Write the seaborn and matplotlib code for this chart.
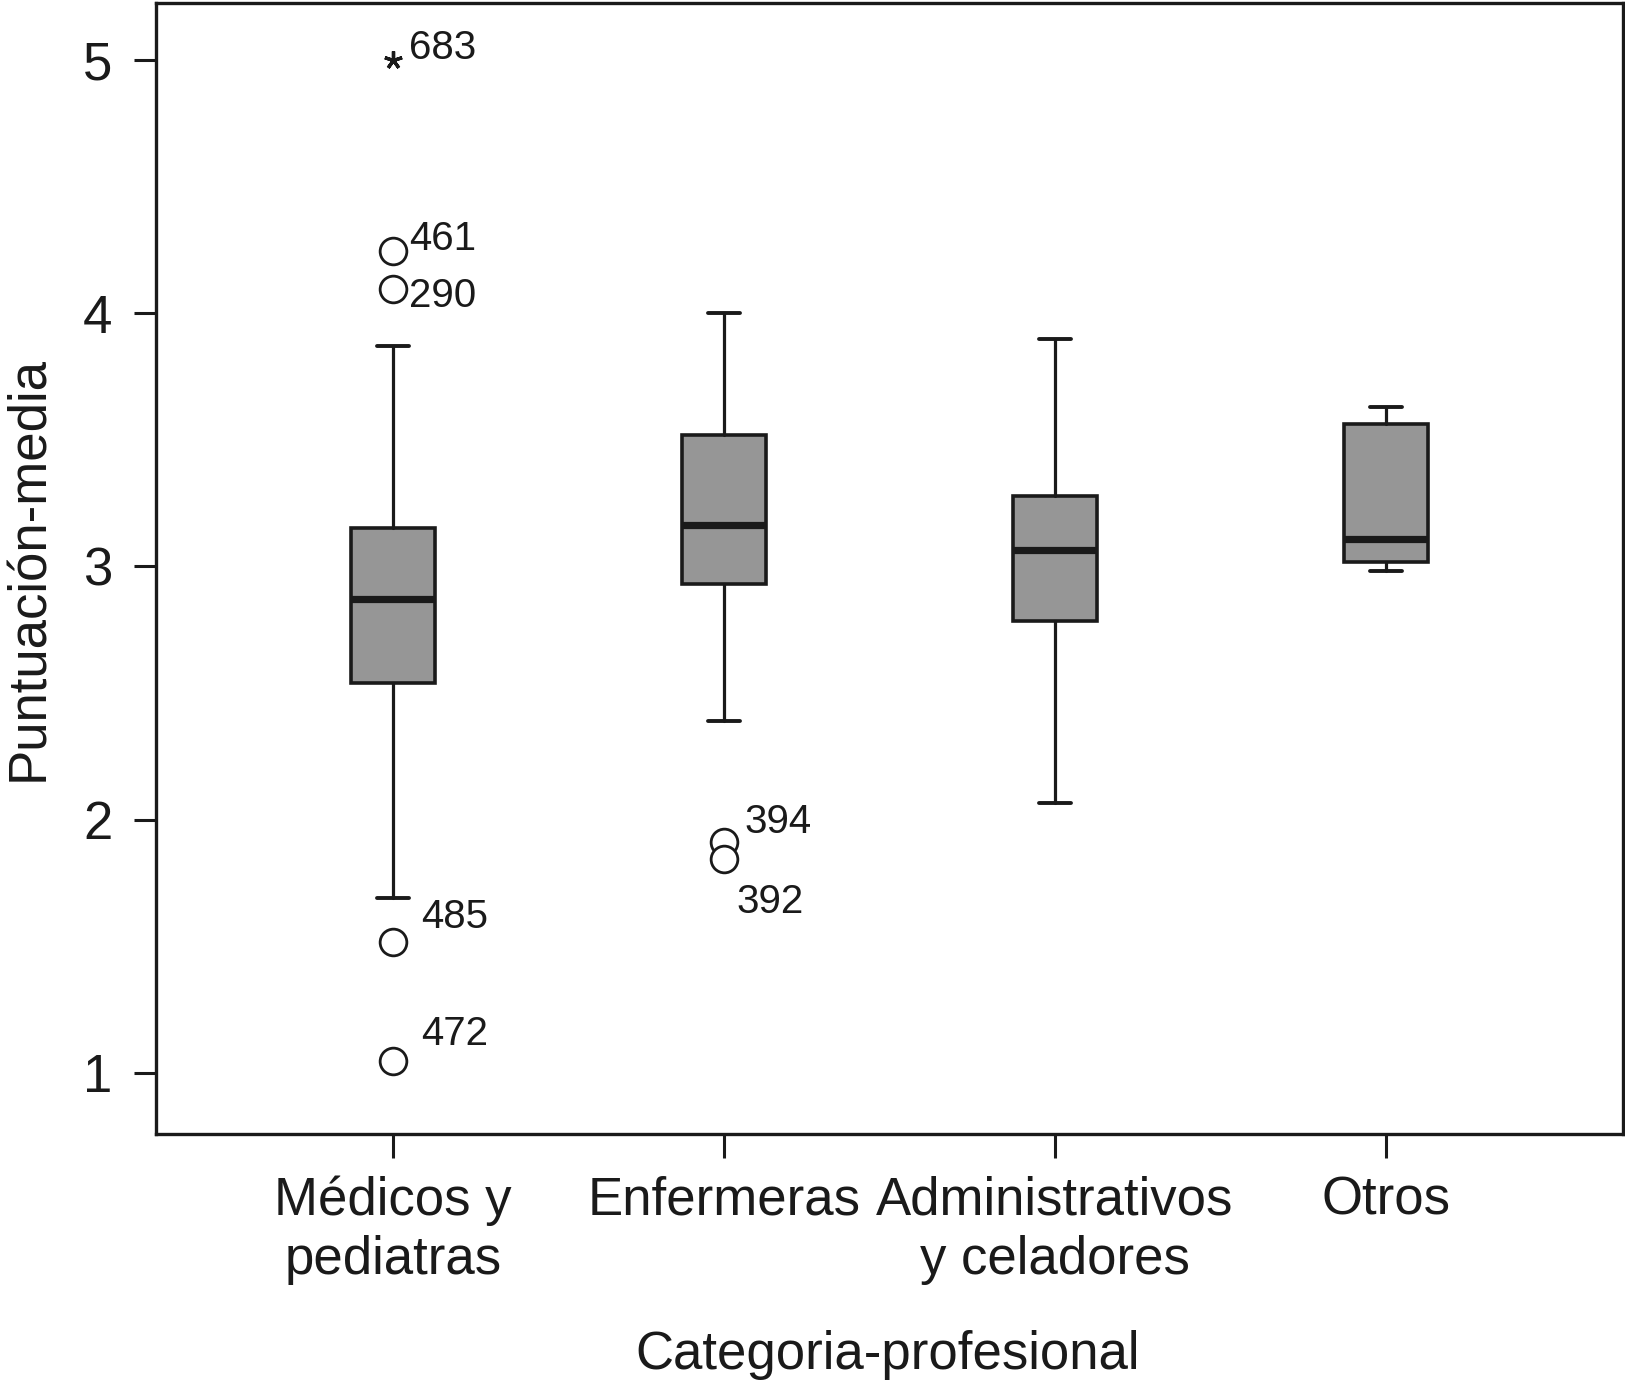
import matplotlib
matplotlib.use("Agg")
import matplotlib.pyplot as plt
import seaborn as sns
import pandas as pd

# ---------------- data ----------------
categories = ["Médicos y\npediatras", "Enfermeras", "Administrativos\ny celadores", "Otros"]
whisker_low = [1.69, 2.39, 2.065, 2.98]
q1 = [2.54, 2.93, 2.785, 3.017]
median = [2.87, 3.165, 3.063, 3.109]
q3 = [3.15, 3.518, 3.277, 3.563]
whisker_high = [3.87, 4.0, 3.90, 3.63]

outlier_category = ["Médicos y\npediatras", "Médicos y\npediatras", "Médicos y\npediatras",
                    "Médicos y\npediatras", "Enfermeras", "Enfermeras"]
outlier_value = [4.245, 4.096, 1.515, 1.046, 1.913, 1.843]
outlier_id = ["461", "290", "485", "472", "394", "392"]

extreme_category = ["Médicos y\npediatras"]
extreme_value = [5.0]
extreme_id = ["683"]

y_ticks = [1, 2, 3, 4, 5]
x_title = "Categoria-profesional"
y_title = "Puntuación-media"

# ---------------- style ----------------
sns.set_theme(style="ticks")
plt.rcParams["font.family"] = ["Liberation Sans", "DejaVu Sans"]
INK = "#1a1a1a"
BOX_FILL = "#969696"

fig = plt.figure(figsize=(16.25, 13.89), dpi=100)
ax = fig.add_axes([0.0958, 0.1834, 0.9032, 0.8144])

stats = []
for i, c in enumerate(categories):
    stats.append(dict(label=c, whislo=whisker_low[i], q1=q1[i], med=median[i],
                      q3=q3[i], whishi=whisker_high[i], fliers=[]))

positions = list(range(len(categories)))
ax.bxp(stats, positions=positions, widths=0.254, capwidths=0.094,
       patch_artist=True, showfliers=False,
       boxprops=dict(facecolor=BOX_FILL, edgecolor=INK, linewidth=2.6),
       medianprops=dict(color=INK, linewidth=5.2, solid_capstyle="butt"),
       whiskerprops=dict(color=INK, linewidth=2.3),
       capprops=dict(color=INK, linewidth=2.8))

# outliers (circles)
out_df = pd.DataFrame({
    "x": [categories.index(c) for c in outlier_category],
    "y": outlier_value,
})
sns.scatterplot(data=out_df, x="x", y="y", ax=ax, marker="o", s=370,
                facecolor="white", edgecolor=INK, linewidth=2.0, zorder=5, legend=False)

# extreme values (asterisk)
ext_df = pd.DataFrame({
    "x": [categories.index(c) for c in extreme_category],
    "y": extreme_value,
})
ax.plot(ext_df["x"], ext_df["y"], linestyle="none", marker=(5, 2, 0),
        markersize=13, markeredgewidth=2.4, color=INK, zorder=5)

# case labels
outlier_offsets = [(11.5, 8.8), (11.5, -5.0), (20.6, 18.0), (20.6, 19.4), (14.4, 14.0), (9.0, -30.8)]
for i, lab in enumerate(outlier_id):
    ax.annotate(lab, xy=(out_df["x"][i], outlier_value[i]), xytext=outlier_offsets[i],
                textcoords="offset points", ha="left", va="center", fontsize=29, color=INK)
extreme_offsets = [(11.5, 9.0)]
for i, lab in enumerate(extreme_id):
    ax.annotate(lab, xy=(ext_df["x"][i], extreme_value[i]), xytext=extreme_offsets[i],
                textcoords="offset points", ha="left", va="center", fontsize=29, color=INK)

# axes
ax.set_xlim(-0.717, 3.717)
ax.set_ylim(0.757, 5.225)
ax.set_xticks(positions)
ax.set_xticklabels(categories, fontsize=38, color=INK, linespacing=1.22)
ax.set_yticks(y_ticks)
ax.set_yticklabels([str(t) for t in y_ticks], fontsize=38, color=INK)
ax.tick_params(axis="x", length=17, width=2.2, pad=13, color=INK)
ax.tick_params(axis="y", length=16, width=2.2, pad=15, color=INK)
for s in ax.spines.values():
    s.set_visible(True)
    s.set_linewidth(2.4)
    s.set_color(INK)
ax.set_facecolor("white")
ax.grid(False)

ax.set_xlabel(x_title, fontsize=38, color=INK)
ax.set_ylabel(y_title, fontsize=38, color=INK)
ax.xaxis.set_label_coords(0.499, -0.173)
ax.yaxis.set_label_coords(-0.069, 0.5)

fig.savefig("out.png", dpi=100, facecolor="white")
